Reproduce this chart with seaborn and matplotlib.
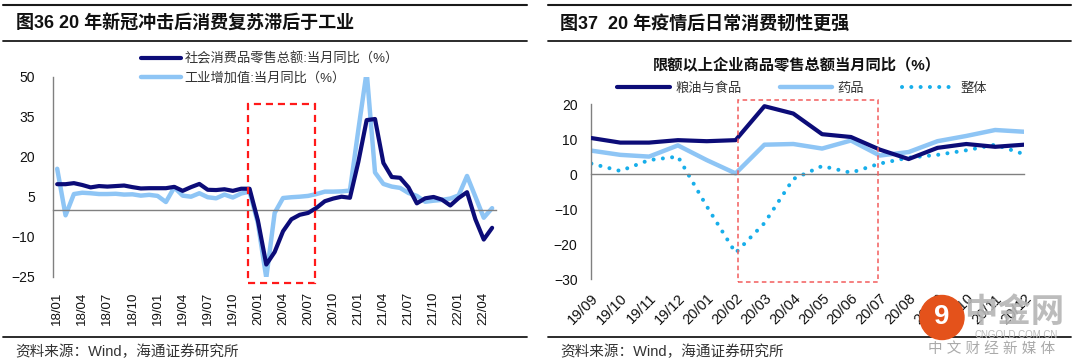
import matplotlib
matplotlib.use('Agg')
import matplotlib.pyplot as plt
import matplotlib.patches as mpatches
from matplotlib.lines import Line2D
import seaborn as sns
import pandas as pd
import numpy as np

# ---------------- data: left chart, monthly 18/01 - 22/05 ----------------
months_left = [f'{y:02d}/{m:02d}' for y in range(18, 23) for m in range(1, 13)][:53]
retail = [9.7, 9.7, 10.1, 9.4, 8.5, 9.0, 8.8, 9.0, 9.2, 8.6, 8.1, 8.2,
          8.2, 8.2, 8.7, 7.2, 8.6, 9.8, 7.6, 7.5, 7.8, 7.2, 8.0, 8.0,
          -4.0, -20.5, -15.8, -8.0, -3.5, -1.8, -1.1, 0.8, 3.3, 4.3, 5.0, 4.6,
          18.0, 33.8, 34.2, 17.7, 12.4, 12.1, 8.5, 2.5, 4.4, 4.9, 3.9, 1.7,
          4.5, 6.7, -3.5, -11.1, -6.7]
industry = [15.5, -2.0, 6.0, 6.5, 6.3, 6.0, 6.0, 6.1, 5.8, 5.9, 5.4, 5.7,
            5.3, 3.0, 8.5, 5.4, 5.0, 6.3, 4.8, 4.4, 5.8, 4.7, 6.2, 6.9,
            -5.0, -25.5, -1.1, 4.5, 4.8, 5.0, 5.3, 6.0, 6.9, 6.9, 7.0, 7.3,
            30.0, 52.0, 14.1, 9.8, 8.8, 8.3, 6.4, 5.3, 3.1, 3.5, 3.8, 4.3,
            5.5, 12.8, 5.0, -2.9, 0.7]
left_yticks = [-25, -10, 5, 20, 35, 50]

# ---------------- data: right chart, monthly 19/09 - 20/12 ----------------
months_right = ['19/09', '19/10', '19/11', '19/12', '20/01', '20/02', '20/03', '20/04',
                '20/05', '20/06', '20/07', '20/08', '20/09', '20/10', '20/11', '20/12']
food = [10.3, 9.0, 9.0, 9.7, 9.4, 9.7, 19.4, 17.3, 11.4, 10.6, 7.0, 4.3, 7.5, 8.6, 7.8, 8.4]
medicine = [6.7, 5.5, 5.0, 8.2, 4.0, 0.2, 8.4, 8.6, 7.3, 9.6, 5.3, 6.3, 9.4, 10.9, 12.6, 12.1]
overall = [3.0, 0.9, 4.0, 5.0, -9.2, -22.5, -14.0, -1.4, 2.3, 0.4, 3.0, 4.7, 5.5, 6.8, 8.4, 5.7]
right_yticks = [-30, -20, -10, 0, 10, 20]

DARK = '#0c0c78'
LIGHT = '#8ec5f5'
DOT = '#17aeea'
GREY = '#808080'
TXT = '#333333'

sns.set_style('white')
plt.rcParams['font.family'] = ['Liberation Sans', 'Noto Sans CJK SC', 'DejaVu Sans']

W, H = 1080, 361
fig = plt.figure(figsize=(10.8, 3.61), dpi=100)


def fx(px):
    return px / W


def fy(py):
    return 1 - py / H


def rule(x0, x1, y, lw=1.3):
    fig.add_artist(Line2D([fx(x0), fx(x1)], [fy(y), fy(y)], color='#1a1a1a', lw=lw))


# headers / footers
for x0, x1 in [(3, 527), (548, 1071)]:
    rule(x0, x1, 4.5, 1.5)
    rule(x0, x1, 40.5, 1.3)
    rule(x0, x1, 337, 1.3)

fig.text(fx(15.5), fy(24), '图36 20 年新冠冲击后消费复苏滞后于工业', fontsize=13,
         fontweight='bold', va='center', ha='left', color='#111111')
fig.text(fx(560), fy(24), '图37  20 年疫情后日常消费韧性更强', fontsize=13,
         fontweight='bold', va='center', ha='left', color='#111111')
for x in (15.5, 560):
    fig.text(fx(x), fy(352), '资料来源：Wind，海通证券研究所', fontsize=10.5,
             va='center', ha='left', color=TXT)

# ---------------- left chart ----------------
ax1 = fig.add_axes([fx(53), fy(276.5), fx(496.3) - fx(53), fy(77) - fy(276.5)])
df_l = pd.DataFrame({'idx': np.arange(len(months_left)), 'retail': retail, 'industry': industry})
sns.lineplot(data=df_l, x='idx', y='retail', ax=ax1, color=DARK, lw=3.0, zorder=3,
             label='社会消费品零售总额:当月同比（%）')
sns.lineplot(data=df_l, x='idx', y='industry', ax=ax1, color=LIGHT, lw=3.2, zorder=2,
             label='工业增加值:当月同比（%）')
for l in ax1.get_lines():
    l.set_solid_joinstyle('round')
    l.set_solid_capstyle('round')

ax1.set_xlim(-0.5, len(months_left) - 0.5)
ax1.set_ylim(-25, 50)
ax1.set_xlabel('')
ax1.set_ylabel('')
ax1.spines[['top', 'right']].set_visible(False)
ax1.spines['bottom'].set_position(('data', 0))
for s in ('bottom', 'left'):
    ax1.spines[s].set_color(GREY)
    ax1.spines[s].set_linewidth(1.0)
ax1.set_xticks(np.arange(-0.5, len(months_left) - 1, 3))
ax1.tick_params(axis='x', length=4, width=1, color=GREY, labelbottom=False)
ax1.set_yticks(left_yticks)
ax1.tick_params(axis='y', length=3.5, width=1, color=GREY, pad=9.5, labelsize=10,
                labelcolor='#111111')
sec1 = ax1.secondary_xaxis(0)
sec1.set_xticks(np.arange(0, len(months_left), 3), labels=months_left[::3], rotation=90)
sec1.tick_params(length=0, pad=11, labelsize=9.5, labelcolor='#111111')
sec1.spines['bottom'].set_visible(False)

ax1.add_patch(mpatches.Rectangle((22.85, -27.3), 7.95, 67.1, fill=False, ec='#ff1a1a',
                                 lw=1.6, ls=(0, (3.2, 2.2)), clip_on=False, zorder=4))

leg1 = ax1.legend(loc='upper left', bbox_to_anchor=(fx(141), fy(52)),
                  bbox_transform=fig.transFigure, frameon=False, fontsize=9.5,
                  handlelength=3.0, handletextpad=0.3, labelspacing=0.55,
                  borderpad=0, borderaxespad=0)
for t in leg1.get_texts():
    t.set_color(TXT)

# ---------------- right chart ----------------
ax2 = fig.add_axes([fx(591.4), fy(279.1), fx(1024) - fx(591.4), fy(104.1) - fy(279.1)])
df_r = pd.DataFrame({'idx': np.arange(len(months_right)), 'food': food,
                     'medicine': medicine, 'overall': overall})
sns.lineplot(data=df_r, x='idx', y='food', ax=ax2, color=DARK, lw=3.0, zorder=3,
             label='粮油与食品')
sns.lineplot(data=df_r, x='idx', y='medicine', ax=ax2, color=LIGHT, lw=3.2, zorder=2,
             label='药品')
sns.lineplot(data=df_r, x='idx', y='overall', ax=ax2, color=DOT, lw=2.9, zorder=2.5,
             label='整体')
lines = ax2.get_lines()
for l in lines[:2]:
    l.set_solid_joinstyle('round')
    l.set_solid_capstyle('round')
lines[2].set_linestyle((0, (0.01, 2.3)))
lines[2].set_dash_capstyle('round')

ax2.set_xlim(0, len(months_right) - 1)
ax2.set_ylim(-30, 20)
ax2.set_xlabel('')
ax2.set_ylabel('')
ax2.spines[['top', 'right']].set_visible(False)
ax2.spines['bottom'].set_position(('data', 0))
for s in ('bottom', 'left'):
    ax2.spines[s].set_color(GREY)
    ax2.spines[s].set_linewidth(1.0)
ax2.set_xticks(np.arange(len(months_right)))
ax2.tick_params(axis='x', length=4, width=1, color=GREY, labelbottom=False)
ax2.set_yticks(right_yticks)
ax2.tick_params(axis='y', length=3.5, width=1, color=GREY, pad=6.5, labelsize=10,
                labelcolor='#111111')
sec2 = ax2.secondary_xaxis(0)
sec2.set_xticks(np.arange(len(months_right)), labels=months_right)
sec2.tick_params(length=0, pad=9, labelsize=10.5, labelcolor='#111111')
for lbl in sec2.get_xticklabels():
    lbl.set_rotation(45)
    lbl.set_ha('right')
    lbl.set_rotation_mode('anchor')
sec2.spines['bottom'].set_visible(False)

ax2.add_patch(mpatches.Rectangle((5.08, -30.7), 4.87, 51.8, fill=False, ec='#f25c5c',
                                 lw=1.1, ls=(0, (3, 2.2)), clip_on=False, zorder=4))

fig.text(fx(797), fy(65), '限额以上企业商品零售总额当月同比（%）', fontsize=11,
         fontweight='bold', ha='center', va='center', color='#111111')
leg2 = ax2.legend(loc='upper left', bbox_to_anchor=(fx(617), fy(82)),
                  bbox_transform=fig.transFigure, frameon=False, fontsize=9.5, ncol=3,
                  handlelength=4.0, handletextpad=0.4, columnspacing=2.9,
                  borderpad=0, borderaxespad=0)
for t in leg2.get_texts():
    t.set_color(TXT)

# ---------------- watermark ----------------
fig.add_artist(mpatches.Ellipse((fx(942), fy(317.5)), 44 / W, 44 / H, color='#e4521b', zorder=5))
fig.text(fx(942), fy(317), '9', fontsize=20, fontweight='bold', color='white',
         ha='center', va='center', zorder=6)
fig.text(fx(1014), fy(313), '中金网', fontsize=24, fontweight='bold', color='#b5b5b5',
         ha='center', va='center', alpha=0.9, zorder=6)
fig.text(fx(1016), fy(335.5), 'CNGOLD.COM.CN', fontsize=7, color='#bbbbbb',
         ha='center', va='center', zorder=6)
fig.text(fx(992), fy(349), '中 文 财 经 新 媒 体', fontsize=10.5, color='#aaaaaa',
         ha='center', va='center', zorder=6)

fig.savefig('out.png', dpi=100, facecolor='white')
